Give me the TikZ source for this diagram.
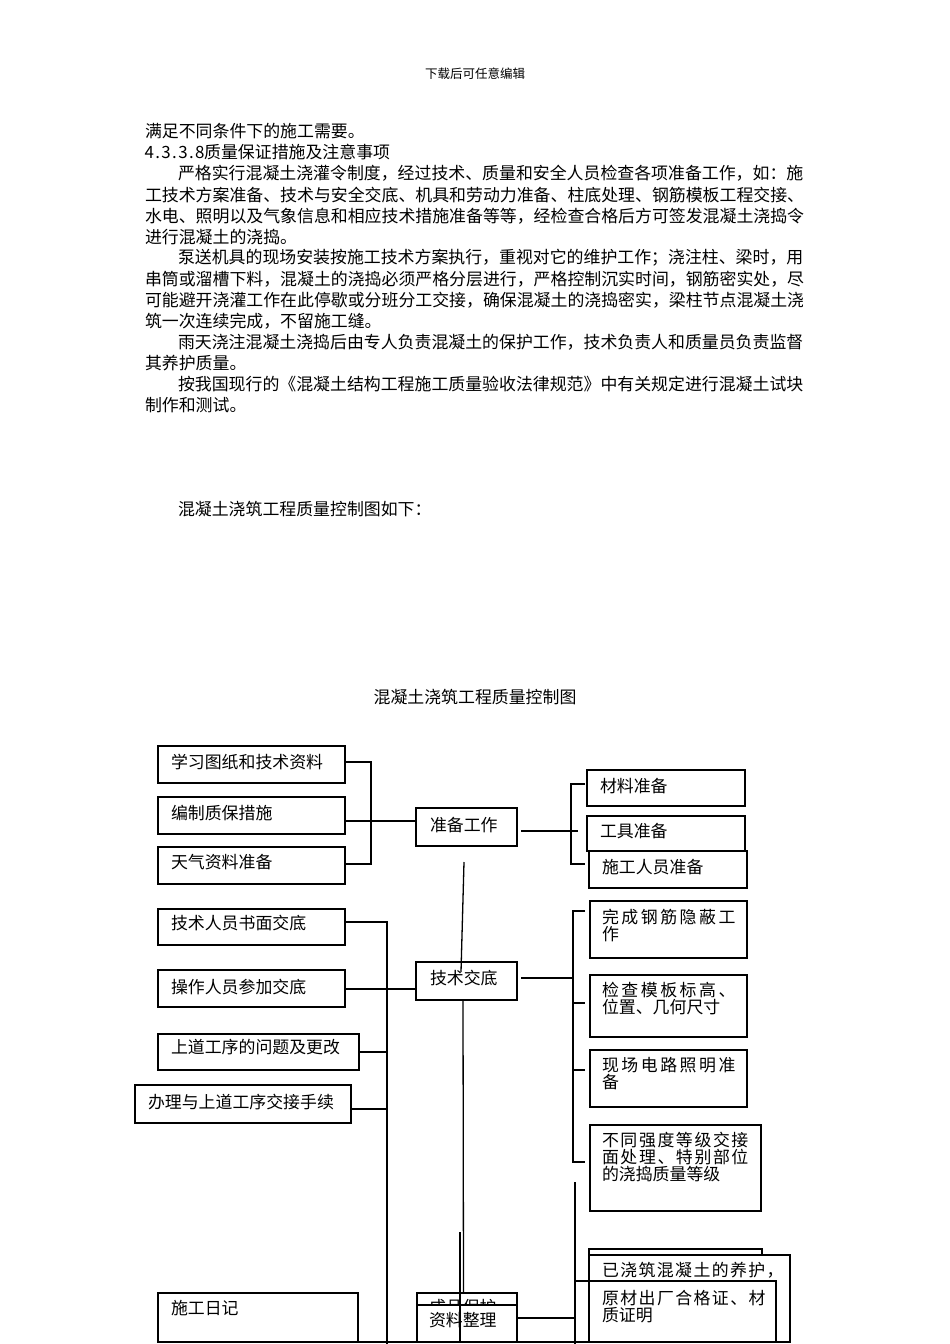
\documentclass[tikz,border=0pt]{standalone}
\usepackage{fontspec}
\setmainfont{Noto Sans CJK SC}
\def\distrend{}
\def\distrloop#1{\ifx#1\distrend\else#1\hfill\expandafter\distrloop\fi}
\newcommand\distr[2]{\hbox to #1{\distrloop#2\distrend}}
\newcommand\hwc[1]{\makebox[0.5em]{#1}}
\newcommand\bx[8]{%
  \node[boxst, anchor=north west, minimum width={#4-#2}, minimum height={#5-#3}] (#1) at (#2,#3) {};
  \node[txt, anchor=north west] (#1-t) at (#6,#7-8) {#8};
}
\begin{document}
\begin{tikzpicture}[x=1pt,y=-1pt,
  boxst/.style={draw=black, line width=1.3pt, fill=white, rectangle, inner sep=0pt, outer sep=0pt},
  txt/.style={inner sep=0pt, outer sep=0pt, align=left, font=\fontsize{16.9}{17}\selectfont},
  body/.style={anchor=west, inner sep=0pt, outer sep=0pt, font=\fontsize{16.9}{20}\selectfont},
  hdr/.style={inner sep=0pt, font=\fontsize{12.5}{14}\selectfont},
  ln/.style={draw=black, line width=1.3pt}]
\useasboundingbox (0,0) rectangle (950,1344);
\fill[white] (0,0) rectangle (950,1344);

% header and body text
\node[hdr] (hdr) at (475,74) {下载后可任意编辑};
\node[body] (l1) at (145,131) {满足不同条件下的施工需要。};
\node[body] (l2) at (145,152) {\hwc{4}\hwc{.}\hwc{3}\hwc{.}\hwc{3}\hwc{.}\hwc{8}质量保证措施及注意事项};
\node[body] (l3) at (178,173) {严格实行混凝土浇灌令制度，经过技术、质量和安全人员检查各项准备工作，如：施};
\node[body] (l4) at (145,195) {工技术方案准备、技术与安全交底、机具和劳动力准备、柱底处理、钢筋模板工程交接、};
\node[body] (l5) at (145,216) {水电、照明以及气象信息和相应技术措施准备等等，经检查合格后方可签发混凝土浇捣令};
\node[body] (l6) at (145,237) {进行混凝土的浇捣。};
\node[body] (l7) at (178,258) {泵送机具的现场安装按施工技术方案执行，重视对它的维护工作；浇注柱、梁时，用};
\node[body] (l8) at (145,279) {串筒或溜槽下料，混凝土的浇捣必须严格分层进行，严格控制沉实时间，钢筋密实处，尽};
\node[body] (l9) at (145,300) {可能避开浇灌工作在此停歇或分班分工交接，确保混凝土的浇捣密实，梁柱节点混凝土浇};
\node[body] (l10) at (145,321) {筑一次连续完成，不留施工缝。};
\node[body] (l11) at (178,342) {雨天浇注混凝土浇捣后由专人负责混凝土的保护工作，技术负责人和质量员负责监督};
\node[body] (l12) at (145,363) {其养护质量。};
\node[body] (l13) at (178,384) {按我国现行的《混凝土结构工程施工质量验收法律规范》中有关规定进行混凝土试块};
\node[body] (l14) at (145,405) {制作和测试。};
\node[body] (l15) at (178,509) {混凝土浇筑工程质量控制图如下：};
\node[body, anchor=center] (title) at (475,697) {混凝土浇筑工程质量控制图};

% boxes
\bx{a1}{158}{746}{345}{783}{171}{762}{学习图纸和技术资料}
\bx{a2}{158}{797}{345}{834}{171}{813}{编制质保措施}
\bx{a3}{158}{847}{345}{884}{171}{862}{天气资料准备}
\bx{zb}{416}{808}{517}{846}{430}{825}{准备工作}
\bx{c1}{587}{770}{745}{806}{600}{786}{材料准备}
\bx{c2}{587}{816}{745}{851}{600}{831}{工具准备}
\bx{c3}{589}{851}{747}{888}{602}{867}{施工人员准备}
\bx{d1}{158}{909}{345}{945}{171}{923}{技术人员书面交底}
\bx{d2}{158}{970}{345}{1007}{171}{987}{操作人员参加交底}
\bx{d3}{158}{1034}{359}{1070}{171}{1047}{上道工序的问题及更改}
\bx{d4}{135}{1085}{351}{1123}{148}{1102}{办理与上道工序交接手续}
\bx{js}{416}{962}{517}{1000}{430}{978}{技术交底}
\bx{e1}{590}{901}{747}{958}{602}{917}{\distr{136pt}{完成钢筋隐蔽工}\\作}
\bx{e2}{590}{975}{747}{1037}{602}{990}{\distr{136pt}{检查模板标高、}\\位置、几何尺寸}
\bx{e3}{590}{1050}{747}{1107}{602}{1065}{\distr{136pt}{现场电路照明准}\\备}
\bx{e4}{590}{1125}{761}{1211}{602}{1140}{\distr{148pt}{不同强度等级交接}\\\distr{148pt}{面处理、特别部位}\\的浇捣质量等级}
\bx{e5}{589}{1249}{762}{1342}{602}{1270}{}
\bx{e6}{589}{1255}{790}{1342}{602}{1270}{\distr{183pt}{已浇筑混凝土的养护，}}
\bx{e7}{589}{1281}{776}{1342}{602}{1298}{\distr{165pt}{原材出厂合格证、材}\\质证明}
\bx{f1}{417}{1293}{517}{1342}{429}{1307}{成品保护}
\bx{f2}{417}{1305}{517}{1342}{429}{1320}{资料整理}
\bx{g1}{158}{1293}{358}{1342}{171}{1308}{施工日记}

% connector points
\coordinate (pA1) at (371,762);
\coordinate (pA2) at (371,821);
\coordinate (pA3) at (371,864);
\coordinate (pB) at (571,831);
\coordinate (pB1) at (571,784);
\coordinate (pB3) at (571,864);
\coordinate (pD1) at (387,922);
\coordinate (pD2) at (387,989);
\coordinate (pD3) at (387,1052);
\coordinate (pD4) at (387,1109);
\coordinate (pDb) at (387,1346);
\coordinate (pE) at (573,978);
\coordinate (pE1) at (573,911);
\coordinate (pE2) at (573,1003);
\coordinate (pE3) at (573,1070);
\coordinate (pE5) at (573,1162);
\coordinate (pF1) at (575,1182);
\coordinate (pF2) at (575,1318);
\coordinate (pF3) at (575,1281);
\coordinate (pFb) at (575,1346);
\coordinate (pG) at (460,1232);

% connectors
\draw[ln] (a1.east |- pA1) -- (pA1) -- (pA3) -- (a3.east |- pA3);
\draw[ln] (a2.east |- pA2) -- (zb.west |- pA2);
\draw[ln, shorten <=4pt] (zb.east |- pB) -- ([xshift=7pt]pB);
\draw[ln, shorten <=2pt, shorten >=4pt] (c1.west |- pB1) -- (pB1) -- (pB3) -- (c3.west |- pB3);
\draw[ln] ([shift={(-2.5,16)}]zb.south) -- ([shift={(-5.5,10)}]js.north);
\draw[ln] (d1.east |- pD1) -- (pD1) -- (pDb);
\draw[ln] (d2.east |- pD2) -- (js.west |- pD2);
\draw[ln] (d3.east |- pD3) -- (pD3);
\draw[ln] (d4.east |- pD4) -- (pD4);
\draw[ln, shorten <=4pt] (js.east |- pE) -- (pE);
\draw[ln, shorten <=5pt, shorten >=5pt] (e1.west |- pE1) -- (pE1) -- (pE5) -- (e4.west |- pE5);
\draw[ln, shorten >=5pt] (pE2) -- (e2.west |- pE2);
\draw[ln, shorten >=5pt] (pE3) -- (e3.west |- pE3);
\draw[ln] (pF1) -- (pFb);
\draw[ln] (f2.east |- pF2) -- (pF2);
\draw[ln] (pF3) -- (e7.north west);
\draw[ln] ([xshift=-3.5pt]js.south) -- ([xshift=-3.5pt]f1.north);
\draw[ln] (pG) -- (pG |- f2.south);
\draw[ln] (g1.south west) -- (e6.south east);
\end{tikzpicture}
\end{document}
